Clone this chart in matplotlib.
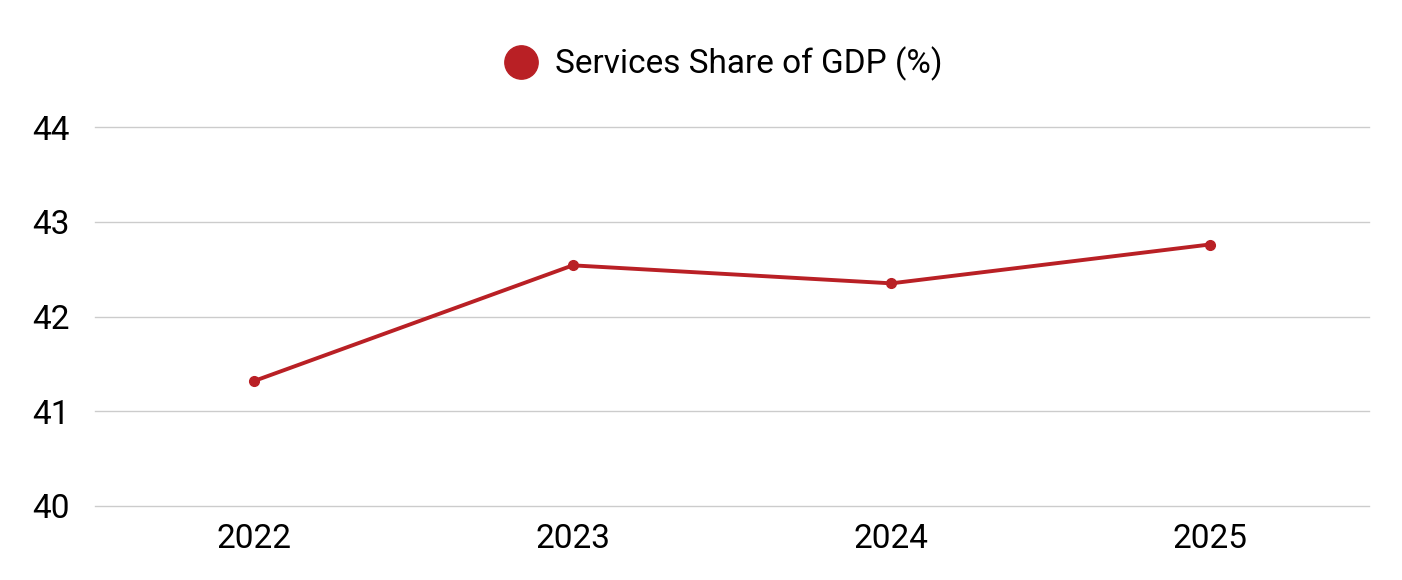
import matplotlib
matplotlib.use("Agg")
import matplotlib.pyplot as plt
from matplotlib.lines import Line2D

plt.rcParams['font.family'] = ['Roboto', 'DejaVu Sans']

# datos
years = ['2022', '2023', '2024', '2025']
services_share = [41.32, 42.54, 42.35, 42.76]
color_linea = '#B92025'

fig = plt.figure(figsize=(14.02, 5.8), dpi=100)
ax = fig.add_axes([0.0678, 0.1276, 0.9087, 0.6534])

x = range(len(years))
ax.plot(x, services_share, color=color_linea, linewidth=2.8,
        marker='o', markersize=7, zorder=3)

ax.set_xlim(-0.5, len(years) - 0.5)
ax.set_ylim(40, 44)
ax.set_yticks([40, 41, 42, 43, 44])
ax.set_xticks(list(x))
ax.set_xticklabels(years)

ax.grid(axis='y', color='#CCCCCC', linewidth=1)
for gl in ax.get_ygridlines():
    gl.set_clip_on(False)
ax.set_axisbelow(True)
for s in ax.spines.values():
    s.set_visible(False)
ax.tick_params(axis='both', length=0, labelsize=24, colors='black')
ax.tick_params(axis='y', pad=18)
ax.tick_params(axis='x', pad=12)

handle = Line2D([], [], color=color_linea, marker='o', linestyle='none', markersize=24)
fig.legend([handle], ['Services Share of GDP (%)'], loc='center',
           bbox_to_anchor=(0.516, 0.89), frameon=False, fontsize=24,
           handletextpad=0.5, handlelength=1.0)

fig.savefig('out.png', dpi=100)
